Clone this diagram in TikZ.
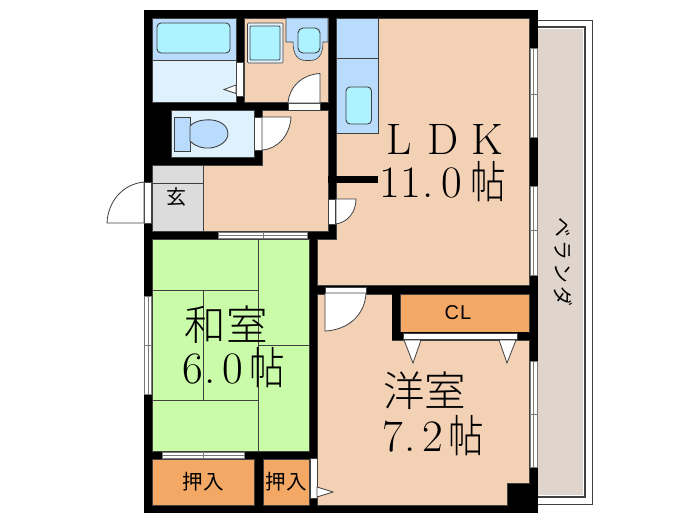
\documentclass[tikz,border=0pt]{standalone}
\usepackage{fontspec}
\setsansfont{Liberation Sans}
\newfontfamily\cjk{Noto Sans CJK JP Light}
\newfontfamily\cjkn[FakeStretch=0.8]{Noto Sans CJK JP Light}
\newfontfamily\cjkm{Noto Sans CJK JP}
\definecolor{floorc}{HTML}{F3D1B5}
\definecolor{blueb}{HTML}{B9DCFD}
\definecolor{cyanc}{HTML}{ACF3FF}
\definecolor{palec}{HTML}{E0F1FE}
\definecolor{grayc}{HTML}{DCDCDC}
\definecolor{greenc}{HTML}{C9FBA8}
\definecolor{orangec}{HTML}{F4A866}
\definecolor{verc}{HTML}{E0D5CC}
\definecolor{linec}{HTML}{404040}
\tikzset{
 room/.style={draw=linec,line width=0.6pt},
 fix/.style={draw=linec,line width=0.9pt},
 dooropen/.style={fill=white,draw=linec,line width=0.8pt},
 win/.style={fill=white,draw=linec!70,line width=0.8pt},
 lbl/.style={inner sep=0pt,outer sep=0pt,text=black}
}
\newcommand{\hb}[1]{\makebox[21.5pt][c]{#1}}
\newcommand{\pd}{\makebox[19pt][l]{\kern1pt.}}
\newcommand{\hi}[1]{\kern#1pt\raisebox{-1.5pt}{\cjkn\fontsize{44.5}{44.5}\selectfont 帖}}
\begin{document}
\begin{tikzpicture}[x=1pt,y=-1pt]
\useasboundingbox (0,0) rectangle (700,525);
% veranda
\fill[white,draw=linec,line width=0.9pt] (537,20) rectangle (592.5,504);
\fill[verc,draw=linec,line width=1.1pt] (537,27) rectangle (585,497);
\draw[white,line width=1pt] (538,28.5) -- (583.5,28.5) -- (583.5,495.5) -- (538,495.5);
% outer wall
\fill[black] (144,10) rectangle (538,513);
% floors
\fill[room,fill=floorc] (336,18) -- (529,18) -- (529,285) -- (317,285) -- (317,239) -- (336,239) -- cycle;
\fill[room,fill=floorc] (317,294) -- (392,294) -- (392,340) -- (529,340) -- (529,483) -- (507,483) -- (507,505.5) -- (317,505.5) -- cycle;
\fill[room,fill=floorc] (262,110) -- (328,110) -- (328,231) -- (203,231) -- (203,165) -- (262,165) -- cycle;
\fill[room,fill=floorc] (244,18) rectangle (328,102);
\fill[room,fill=grayc] (152,165) rectangle (203,231);
\draw[room] (152,183) -- (203,183);
% bath
\fill[room,fill=palec] (152,60) rectangle (236,102);
\fill[room,fill=blueb] (152,18) rectangle (236,60);
\fill[fix,fill=cyanc,rounded corners=4pt] (157,23) rectangle (230,53);
% wash
\fill[room,fill=palec,rounded corners=1pt] (247.5,23) rectangle (283,63);
\fill[fix,fill=cyanc,rounded corners=1pt] (250,26) rectangle (280,60);
\fill[room,fill=blueb] (286,18) -- (328,18) -- (328,42) -- (323,42) .. controls (323,55) and (318,60.5) .. (310,60.5) -- (306,60.5) .. controls (298,60.5) and (293,55) .. (293,42) -- (286,42) -- cycle;
\fill[fix,fill=cyanc,rounded corners=5pt] (298,28) rectangle (320,53);
% toilet
\fill[room,fill=palec] (171,110) rectangle (254,157);
\fill[fix,fill=blueb] (174,117) rectangle (190,151);
\fill[fix,fill=blueb] (190,126) .. controls (196,120) and (205,119.5) .. (212,120) .. controls (222,121) and (228,127) .. (228,133.5) .. controls (228,141) and (220,147) .. (210,148) .. controls (203,148.5) and (196,147) .. (190,141) -- cycle;
% kitchen
\fill[room,fill=blueb] (336,18) rectangle (378,58);
\fill[room,fill=blueb] (336,58) rectangle (378,133);
\fill[fix,fill=cyanc,rounded corners=4pt] (346,87) rectangle (371.5,124);
\fill[black] (328,176) rectangle (378,183);
% tatami
\fill[room,fill=greenc] (152,239) rectangle (309,451);
\draw[room] (258,239) -- (258,451) (152,290) -- (258,290) (203,290) -- (203,400) (152,400) -- (258,400) (258,345) -- (309,345);
% closets
\fill[room,fill=orangec] (152,459) rectangle (254,505.5);
\fill[room,fill=orangec] (263,459) rectangle (309,505.5);
\fill[room,fill=orangec] (400,294) rectangle (529,332);
% western corner wall
\fill[black] (392,294) rectangle (400,340);
\fill[black] (392,332) rectangle (529,340);
% windows
\fill[win] (530,48) rectangle (537,137); \draw[linec!70] (533.5,48) -- (533.5,137) (530,94) -- (537,94);
\fill[win] (530,186) rectangle (537,275); \draw[linec!70] (533.5,186) -- (533.5,275) (530,230) -- (537,230);
\fill[win] (530,361) rectangle (537,467); \draw[linec!70] (533.5,361) -- (533.5,467) (530,414) -- (537,414);
\fill[win] (144.5,296) rectangle (151.5,394); \draw[linec!70] (148,296) -- (148,394) (144.5,345) -- (151.5,345);
\fill[win] (218,232) rectangle (307,238); \draw[linec!70] (218,235) -- (307,235) (263,232) -- (263,238);
\fill[win] (162,452.5) rectangle (244,458.5); \draw[linec!70] (162,455.5) -- (244,455.5) (203,452.5) -- (203,458.5);
% doors
\fill[dooropen] (236,62) rectangle (243,96);
\fill[dooropen] (236,85) -- (224,89.5) -- (236,93.5) -- cycle;
\fill[dooropen] (288,103) rectangle (320,110);
\fill[dooropen] (320,103) -- (288,103) .. controls (289,87) and (302,74.5) .. (320,73.5) -- cycle;
\fill[dooropen] (254,117) rectangle (262,150);
\fill[dooropen] (262,150) -- (262,117) -- (291,117) .. controls (290,135) and (278,149) .. (262,150) -- cycle;
\fill[dooropen] (144.5,182) rectangle (151.5,223);
\fill[dooropen] (144,223) -- (107,223) .. controls (108,201) and (123,184) .. (144,182) -- cycle;
\fill[dooropen] (328.5,199) rectangle (335.5,224);
\fill[dooropen] (336,224) -- (336,199) -- (356,199) .. controls (356,212) and (348,222) .. (336,224) -- cycle;
\fill[dooropen] (310,458) rectangle (317,498);
\fill[dooropen] (317,487) -- (333,492) -- (317,497) -- cycle;
\fill[dooropen] (325,287) rectangle (366,293);
\fill[dooropen] (325,293) -- (366,293) .. controls (365,315) and (348,330) .. (325,331) -- cycle;
\fill[dooropen] (403,333) rectangle (517,339);
\fill[dooropen] (404,340) -- (421,340) -- (413,363) -- cycle;
\fill[dooropen] (499,340) -- (516,340) -- (507,363) -- cycle;
% labels
\node[lbl,anchor=base] (ldk) at (443,154) {\fontsize{44}{44}\selectfont\makebox[44pt]{L}\makebox[44pt]{D}\makebox[44pt]{K}};
\node[lbl,anchor=base west] (ldkn) at (379,197) {\fontsize{45}{45}\selectfont\hb{1}\hb{1}\pd\hb{0}\hi{8}};
\node[lbl,anchor=center] (wa) at (226,325) {\fontsize{41.5}{41.5}\selectfont\cjk 和室};
\node[lbl,anchor=base west] (wan) at (182,383) {\fontsize{45}{45}\selectfont\hb{6}\pd\hb{0}\hi{5}};
\node[lbl,anchor=center] (yo) at (424.5,391) {\fontsize{41.5}{41.5}\selectfont\cjk 洋室};
\node[lbl,anchor=base west] (yon) at (382,451) {\fontsize{45}{45}\selectfont\hb{7}\pd\hb{2}\hi{4}};
\node[lbl] (gen) at (176,197) {\fontsize{20}{20}\selectfont\cjkm 玄};
\node[lbl] (os1) at (203,482) {\fontsize{20.5}{20.5}\selectfont\cjkm 押入};
\node[lbl] (os2) at (286,482) {\fontsize{20.5}{20.5}\selectfont\cjkm 押入};
\node[lbl] (cl) at (458,313) {\fontsize{20}{20}\selectfont\sffamily C\kern1pt L};
\node[lbl,rotate=-90] (ver) at (563,262) {\fontsize{20}{20}\selectfont\cjkm\makebox[23pt]{ベ}\makebox[23pt]{ラ}\makebox[23pt]{ン}\makebox[23pt]{ダ}};
\end{tikzpicture}
\end{document}
